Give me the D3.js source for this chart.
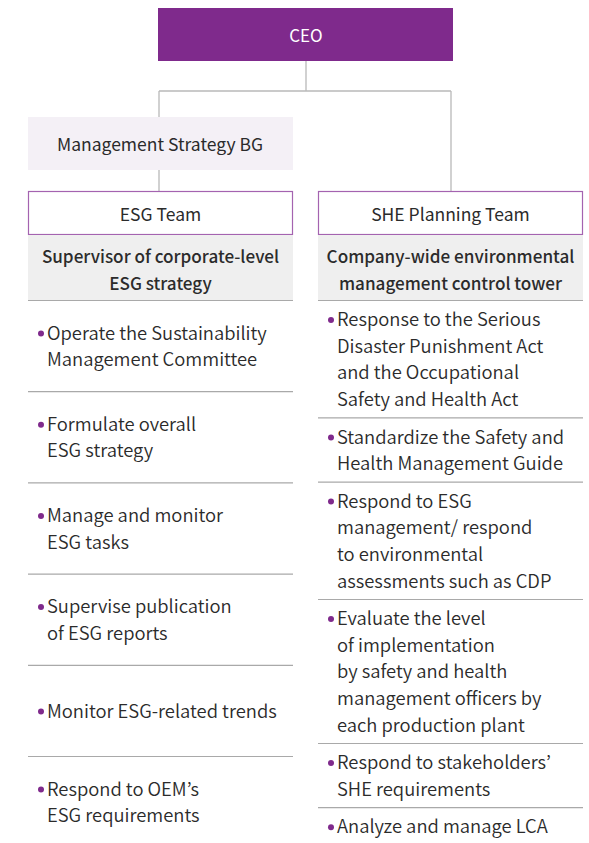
<!DOCTYPE html>
<html>
<head>
<meta charset="utf-8">
<script src="https://cdn.jsdelivr.net/npm/d3@7"></script>
<style>
  body { margin: 0; background: #fff; }
  svg text { font-family: "Noto Sans CJK KR", "Noto Sans", sans-serif; fill: #2b2b2b; }
</style>
</head>
<body>
<div id="chart"></div>
<script>
var svgWidth = 589;
var svgHeight = 843;

// chart content
var ceoLabel = "CEO";
var bgLabel = "Management Strategy BG";
var teams = ["ESG Team", "SHE Planning Team"];
var roles = [
  ["Supervisor of corporate-level", "ESG strategy"],
  ["Company-wide environmental", "management control tower"]
];
var esgTasks = [
  ["Operate the Sustainability", "Management Committee"],
  ["Formulate overall", "ESG strategy"],
  ["Manage and monitor", "ESG tasks"],
  ["Supervise publication", "of ESG reports"],
  ["Monitor ESG-related trends"],
  ["Respond to OEM\u2019s", "ESG requirements"]
];
var sheTasks = [
  ["Response to the Serious", "Disaster Punishment Act", "and the Occupational", "Safety and Health Act"],
  ["Standardize the Safety and", "Health Management Guide"],
  ["Respond to ESG", "management/ respond", "to environmental", "assessments such as CDP"],
  ["Evaluate the level", "of implementation", "by safety and health", "management officers by", "each production plant"],
  ["Respond to stakeholders\u2019", "SHE requirements"],
  ["Analyze and manage LCA"]
];

var purple = "#7f2a8c";
var lineGray = "#b9b9b9";
var sepGray = "#a9a9a9";

var svg = d3.select("#chart")
  .append("svg")
  .attr("width", svgWidth)
  .attr("height", svgHeight);

// two team columns
var x = d3.scaleBand()
  .domain(teams)
  .range([28, 583])
  .paddingInner(0.0862);
var bw = x.bandwidth();
var cx = t => x(t) + bw / 2;

var lineH = 26.6;
var baseOff = 6.5;
var itemOff = 7.3;

// connectors
var conn = svg.append("g").attr("stroke", lineGray).attr("stroke-width", 1.3).attr("fill", "none");
conn.append("line").attr("x1", 306).attr("x2", 306).attr("y1", 61).attr("y2", 91);
conn.append("line").attr("x1", 159).attr("x2", 451).attr("y1", 91).attr("y2", 91);
conn.append("line").attr("x1", 159).attr("x2", 159).attr("y1", 91).attr("y2", 191);
conn.append("line").attr("x1", 451).attr("x2", 451).attr("y1", 91).attr("y2", 191);

// CEO box
svg.append("rect")
  .attr("x", 158).attr("y", 8).attr("width", 295).attr("height", 53)
  .attr("fill", purple);
svg.append("text")
  .attr("x", 306).attr("y", 35 + baseOff)
  .attr("text-anchor", "middle")
  .style("fill", "#fff")
  .style("font-size", "17px")
  .text(ceoLabel);

// Management Strategy BG
svg.append("rect")
  .attr("x", 28).attr("y", 117).attr("width", 265).attr("height", 53)
  .attr("fill", "#f4f0f6");
svg.append("text")
  .attr("x", 160).attr("y", 144 + baseOff)
  .attr("text-anchor", "middle")
  .style("font-size", "17.5px")
  .text(bgLabel);

// team boxes
var teamG = svg.selectAll(".team")
  .data(teams)
  .enter()
  .append("g")
  .attr("class", "team");

teamG.append("rect")
  .attr("x", d => x(d) + 0.5)
  .attr("y", 191.5)
  .attr("width", bw - 1)
  .attr("height", 43)
  .attr("fill", "#fff")
  .attr("stroke", "#a463b0")
  .attr("stroke-width", 1.2);

teamG.append("text")
  .attr("x", d => cx(d))
  .attr("y", 214 + baseOff)
  .attr("text-anchor", "middle")
  .style("font-size", "17.5px")
  .text(d => d);

// role boxes
teamG.append("rect")
  .attr("x", d => x(d))
  .attr("y", 235)
  .attr("width", bw)
  .attr("height", 65)
  .attr("fill", "#efefef");

teamG.append("line")
  .attr("x1", d => x(d)).attr("x2", d => x(d) + bw)
  .attr("y1", 300.5).attr("y2", 300.5)
  .attr("stroke", sepGray).attr("stroke-width", 1.2);

teamG.each(function(d, i) {
  var t = d3.select(this).append("text")
    .attr("text-anchor", "middle")
    .style("font-size", "17.1px")
    .style("font-weight", 500);
  t.selectAll("tspan")
    .data(roles[i])
    .enter()
    .append("tspan")
    .attr("x", cx(d))
    .attr("y", (l, j) => 256 + j * 27 + baseOff)
    .text(l => l);
});

// task cells
function layoutLeft(tasks) {
  return tasks.map((lines, i) => ({ lines: lines, y0: 300 + i * 91.2, h: 91.2 }));
}
function layoutRight(tasks) {
  var y = 300;
  return tasks.map(lines => {
    var h = lines.length * lineH + 11;
    var c = { lines: lines, y0: y, h: h };
    y += h;
    return c;
  });
}

function drawTasks(cells, left) {
  var g = svg.append("g");
  var cell = g.selectAll("g")
    .data(cells)
    .enter()
    .append("g");

  // separator under each cell except the last
  cell.filter((d, i) => i < cells.length - 1)
    .append("line")
    .attr("x1", left).attr("x2", left + bw)
    .attr("y1", d => d.y0 + d.h + 0.5).attr("y2", d => d.y0 + d.h + 0.5)
    .attr("stroke", sepGray).attr("stroke-width", 1.2);

  cell.each(function(d) {
    var top = d.y0 + d.h / 2 - (d.lines.length - 1) * lineH / 2;
    var c = d3.select(this);
    c.append("circle")
      .attr("cx", left + 13)
      .attr("cy", top + 1.2)
      .attr("r", 3)
      .attr("fill", purple);
    c.append("text")
      .style("font-size", "18.4px")
      .style("font-weight", 350)
      .selectAll("tspan")
      .data(d.lines)
      .enter()
      .append("tspan")
      .attr("x", left + 19)
      .attr("y", (l, j) => top + j * lineH + itemOff)
      .text(l => l);
  });
}

drawTasks(layoutLeft(esgTasks), x(teams[0]));
drawTasks(layoutRight(sheTasks), x(teams[1]));
</script>
</body>
</html>
